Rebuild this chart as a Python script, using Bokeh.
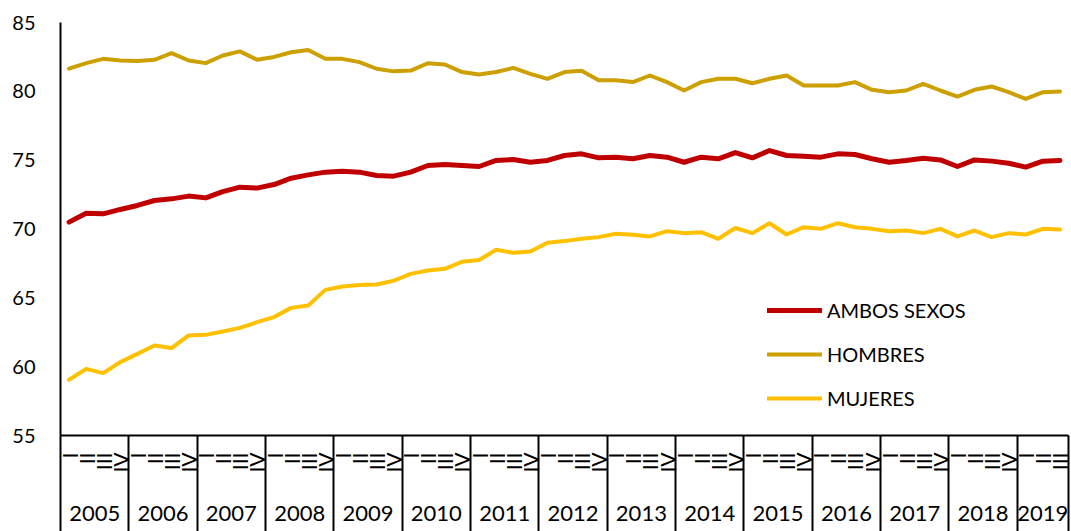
import math
from bokeh.plotting import figure
from bokeh.models import (ColumnDataSource, Range1d, FixedTicker, LinearAxis,
                          Legend, LegendItem)
from bokeh.embed import file_html
from bokeh.resources import INLINE

# ---------------- data ----------------
years = ["2005", "2006", "2007", "2008", "2009", "2010", "2011", "2012",
         "2013", "2014", "2015", "2016", "2017", "2018", "2019"]
quarters = ["I", "II", "III", "IV"]
periods = [(y, q) for y in years for q in quarters][:59]   # 2019: I-III

ambos = [70.50, 71.15, 71.10, 71.42, 71.71, 72.07, 72.19, 72.39, 72.26, 72.72,
         73.04, 72.97, 73.23, 73.69, 73.93, 74.13, 74.20, 74.13, 73.89, 73.84,
         74.13, 74.61, 74.69, 74.61, 74.54, 74.98, 75.05, 74.85, 74.98, 75.34,
         75.46, 75.17, 75.22, 75.10, 75.34, 75.22, 74.85, 75.22, 75.10, 75.55,
         75.17, 75.70, 75.34, 75.29, 75.22, 75.46, 75.41, 75.10, 74.85, 74.98,
         75.14, 75.02, 74.54, 75.02, 74.93, 74.78, 74.49, 74.93, 74.98]

hombres = [81.65, 82.05, 82.36, 82.24, 82.20, 82.29, 82.77, 82.24, 82.05, 82.60,
           82.90, 82.30, 82.50, 82.84, 83.00, 82.36, 82.36, 82.12, 81.64, 81.45,
           81.51, 82.04, 81.95, 81.40, 81.22, 81.40, 81.70, 81.27, 80.91, 81.40,
           81.50, 80.80, 80.80, 80.67, 81.15, 80.67, 80.06, 80.67, 80.91, 80.91,
           80.59, 80.91, 81.15, 80.42, 80.42, 80.42, 80.67, 80.11, 79.94, 80.06,
           80.54, 80.06, 79.62, 80.11, 80.35, 79.94, 79.45, 79.94, 79.99]

mujeres = [59.05, 59.84, 59.53, 60.33, 60.93, 61.54, 61.35, 62.27, 62.31, 62.56,
           62.82, 63.23, 63.60, 64.27, 64.44, 65.58, 65.82, 65.94, 65.97, 66.24,
           66.74, 66.99, 67.11, 67.62, 67.75, 68.49, 68.27, 68.36, 69.00, 69.12,
           69.29, 69.41, 69.65, 69.58, 69.46, 69.84, 69.70, 69.77, 69.29, 70.07,
           69.70, 70.42, 69.60, 70.13, 70.01, 70.42, 70.13, 70.01, 69.84, 69.89,
           69.70, 70.01, 69.46, 69.89, 69.41, 69.70, 69.60, 70.01, 69.96]

y_ticks = [55, 60, 65, 70, 75, 80, 85]

series_names = ["AMBOS SEXOS", "HOMBRES", "MUJERES"]
series_colors = ["#C00000", "#CCA000", "#FFC000"]

# ---------------- derived positions ----------------
n = len(periods)
idx = list(range(n))
year_idx = {}
for i, (y, q) in enumerate(periods):
    year_idx.setdefault(y, []).append(i)
year_centers = [sum(v) / len(v) for v in year_idx.values()]
year_bounds = [v[0] - 0.5 for v in year_idx.values()] + [n - 0.5]

src = ColumnDataSource(dict(x=idx, ambos=ambos, hombres=hombres, mujeres=mujeres))

FONT = "Lato"
BOTTOM = 96

p = figure(width=1071, height=531,
           x_range=Range1d(-0.5, n - 0.5), y_range=Range1d(55, 85),
           output_backend="svg", toolbar_location=None,
           min_border_left=60, min_border_right=3, min_border_top=22,
           min_border_bottom=BOTTOM)
p.xgrid.visible = False
p.ygrid.visible = False
p.outline_line_color = None
p.background_fill_color = "white"
p.border_fill_color = "white"

# y axis
ya = p.yaxis[0]
ya.ticker = FixedTicker(ticks=y_ticks)
ya.axis_line_color = "black"
ya.axis_line_width = 2
ya.major_tick_line_color = None
ya.minor_tick_line_color = None
ya.major_tick_out = 0
ya.major_tick_in = 0
ya.major_label_standoff = 25
ya.major_label_text_font = FONT
ya.major_label_text_font_size = "20px"
ya.major_label_text_color = "black"

# x axis 1: quarters + year separators
xa = p.xaxis[0]
xa.ticker = FixedTicker(ticks=idx, minor_ticks=year_bounds)
xa.major_label_overrides = {i: q for i, (y, q) in enumerate(periods)}
xa.axis_line_color = "black"
xa.axis_line_width = 2
xa.major_tick_line_color = None
xa.major_tick_out = 0
xa.major_tick_in = 0
xa.minor_tick_in = 0
xa.minor_tick_out = BOTTOM
xa.minor_tick_line_color = "black"
xa.minor_tick_line_width = 2
xa.major_label_orientation = math.pi / 2
xa.major_label_standoff = 17 - BOTTOM
xa.major_label_text_font = FONT
xa.major_label_text_font_size = "21px"
xa.major_label_text_color = "black"

# x axis 2: years
xa2 = LinearAxis(ticker=FixedTicker(ticks=year_centers),
                 major_label_overrides={c: y for c, y in zip(year_centers, year_idx.keys())})
xa2.axis_line_color = None
xa2.major_tick_line_color = None
xa2.minor_tick_line_color = None
xa2.major_tick_out = 0
xa2.major_tick_in = 0
xa2.major_label_standoff = 30
xa2.major_label_text_font = FONT
xa2.major_label_text_font_size = "22px"
xa2.major_label_text_color = "black"
p.add_layout(xa2, "below")

renderers = []
for col, color, lw in zip(["ambos", "hombres", "mujeres"], series_colors, [5, 4, 4]):
    r = p.line(x="x", y=col, source=src, line_color=color, line_width=lw,
               line_join="round", line_cap="round")
    renderers.append(r)

legend = Legend(items=[LegendItem(label=nm, renderers=[r]) for nm, r in zip(series_names, renderers)],
                location=(707, 25), orientation="vertical",
                glyph_width=55, glyph_height=24, label_height=24,
                label_standoff=5, spacing=20, padding=0, margin=0,
                border_line_color=None, background_fill_alpha=0,
                label_text_font=FONT, label_text_font_size="20px",
                label_text_color="black")
p.add_layout(legend)

open("out.html", "w").write(file_html(p, INLINE))
